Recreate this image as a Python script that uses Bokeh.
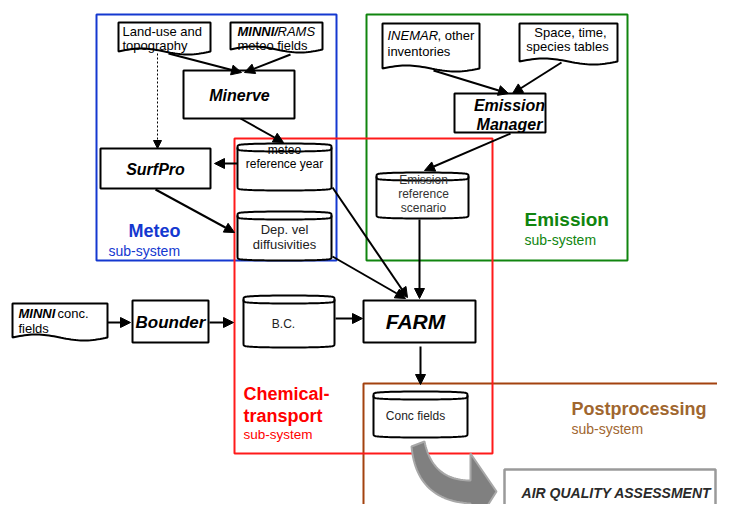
import numpy as np
from bokeh.plotting import figure
from bokeh.models import Range1d, Arrow, NormalHead
from bokeh.core.properties import value
from bokeh.embed import file_html
from bokeh.resources import INLINE

FONT = value("Liberation Sans")

# ---------------- diagram content ----------------
# sub-system frames
frame_names = ["Meteo", "Emission", "Postprocessing", "Chemical-transport"]
frame_colors = ["#1438d0", "#10850f", "#a3420f", "#ff1a1a"]
frame_left = [96, 366, 363, 234]
frame_top = [14, 14, 383, 138]
frame_right = [336, 627, 760, 492]
frame_bottom = [260, 260, 560, 453]

# process boxes (rectangles)
proc_names = ["Minerve", "SurfPro", "EmissionManager", "Bounder", "FARM"]
proc_left = [183, 100, 454, 132, 363]
proc_top = [70, 148, 93, 300, 300]
proc_right = [294, 210, 545, 208, 475]
proc_bottom = [118, 188, 132, 342, 342]

# input documents (wavy bottom)
doc_names = ["Land-use", "MINNI/RAMS", "INEMAR", "Space", "MINNI conc"]
doc_left = [118, 230, 382, 519, 12]
doc_top = [22, 22, 23, 23, 303]
doc_right = [210, 322, 479, 617, 107]
doc_bottom = [51, 49, 68, 61, 337]

# data stores (cylinders)
store_names = ["meteo ref", "dep vel", "emis ref", "BC", "conc"]
store_left = [237, 237, 376, 243, 373]
store_top = [143, 211, 172, 295, 391]
store_right = [331, 331, 468, 334, 467]
store_bottom = [190, 260, 218, 347, 437]

# arrows: (x_start, y_start, x_end, y_end)
arrows = [
    (168, 53, 241, 72),    # Land-use -> Minerve
    (290, 54, 244, 72),    # MINNI/RAMS -> Minerve
    (240, 118, 283, 142),  # Minerve -> meteo ref year
    (237, 163, 214, 163),  # meteo ref year -> SurfPro
    (155, 189, 234, 232),  # SurfPro -> Dep vel
    (433, 70, 508, 93),    # INEMAR -> Emission Manager
    (561, 62, 512, 93),    # Space -> Emission Manager
    (510, 133, 424, 170),  # Emission Manager -> Emission ref
    (419, 219, 419, 298),  # Emission ref -> FARM
    (332, 187, 407, 297),  # meteo ref -> FARM
    (332, 256, 405, 298),  # dep vel -> FARM
    (107, 322, 130, 322),  # MINNI conc -> Bounder
    (209, 322, 233, 322),  # Bounder -> B.C.
    (335, 318, 362, 318),  # B.C. -> FARM
    (420, 346, 420, 384),  # FARM -> Conc fields
]
dotted_arrow = (157, 53, 157, 148)  # Land-use -> SurfPro

# ---------------- figure ----------------
p = figure(width=717, height=504, x_range=Range1d(0, 717), y_range=Range1d(504, 0),
           output_backend="svg", toolbar_location=None, min_border=0,
           x_axis_location=None, y_axis_location=None)
p.xgrid.visible = False
p.ygrid.visible = False
p.outline_line_color = None
p.background_fill_color = "white"
p.border_fill_color = "white"

# frames
for l, t, r, b, c in zip(frame_left, frame_top, frame_right, frame_bottom, frame_colors):
    p.quad(left=[l], right=[r], top=[t], bottom=[b], fill_color=None,
           line_color=c, line_width=2)


# grey big curved arrow (Conc fields -> Air quality assessment)
def bez(p0, p1, p2, n=30):
    t = np.linspace(0, 1, n)[:, None]
    pts = (1 - t) ** 2 * np.array(p0) + 2 * (1 - t) * t * np.array(p1) + t ** 2 * np.array(p2)
    return pts[:, 0], pts[:, 1]

ox, oy = bez((411, 446), (416, 500), (470, 503))
ix, iy = bez((424, 441), (432, 480), (470, 480))
gx = list(ox) + [470, 496, 470] + list(ix[::-1])
gy = list(oy) + [532, 491, 453] + list(iy[::-1])
p.patch(gx, gy, fill_color="#808080", line_color="#a8a8a8", line_width=2)

# air quality assessment box
p.quad(left=[504], right=[715], top=[469], bottom=[513], fill_color="white",
       line_color="#9a9a9a", line_width=2.5)

# process boxes
p.quad(left=proc_left, right=proc_right, top=proc_top, bottom=proc_bottom,
       fill_color="white", line_color="black", line_width=2)

# documents
dxs, dys = [], []
for l, t, r, b in zip(doc_left, doc_top, doc_right, doc_bottom):
    s = np.linspace(0, 1, 40)
    wx = r - (r - l) * s
    wy = b + 3 * np.sin(2 * np.pi * s)
    dxs.append([l, r] + list(wx))
    dys.append([t, t] + list(wy))
p.patches(dxs, dys, fill_color="white", line_color="black", line_width=2)

# cylinders
cxs, cys, fxs, fys = [], [], [], []
for l, t, r, b in zip(store_left, store_top, store_right, store_bottom):
    h = 4
    a = np.linspace(0, np.pi, 40)
    xm, rx = (l + r) / 2, (r - l) / 2
    sa = np.abs(np.sin(a)) ** 0.35
    tx = xm - rx * np.cos(a)
    ty = t + h - h * sa
    bx = xm + rx * np.cos(a)
    by = b - h + h * sa
    cxs.append(list(tx) + list(bx))
    cys.append(list(ty) + list(by))
    fxs.append(list(tx))
    fys.append(list(t + h + h * sa))
p.patches(cxs, cys, fill_color="white", line_color="black", line_width=2)
p.multi_line(fxs, fys, line_color="black", line_width=2)

# arrows
for xs_, ys_, xe, ye in arrows:
    p.add_layout(Arrow(end=NormalHead(size=10, fill_color="black", line_color="black", line_width=1),
                       x_start=xs_, y_start=ys_, x_end=xe, y_end=ye,
                       line_width=2, line_color="black"))
xs_, ys_, xe, ye = dotted_arrow
p.add_layout(Arrow(end=NormalHead(size=8, fill_color="black", line_color="black", line_width=1),
                   x_start=xs_, y_start=ys_, x_end=xe, y_end=ye,
                   line_width=1, line_color="black", line_dash="2 2"))


def txt(x, y, s, size, style="normal", color="black", align="left"):
    p.text(x=[x], y=[y], text=[s], text_font=FONT, text_font_size=f"{size}px",
           text_font_style=style, text_color=color, text_align=align,
           text_baseline="middle")


# process labels
txt(239, 95, "Minerve", 16, "bold italic", align="center")
txt(155, 169, "SurfPro", 16, "bold italic", align="center")
txt(509, 105, "Emission", 16, "bold italic", align="center")
txt(509, 124, "Manager", 16, "bold italic", align="center")
txt(170, 322, "Bounder", 17, "bold italic", align="center")
txt(415, 321, "FARM", 21, "bold italic", align="center")
txt(616, 492, "AIR QUALITY ASSESSMENT", 14, "bold italic", color="#2a2a2a", align="center")

# document labels
txt(122, 31, "Land-use and", 13)
txt(122, 45, "topography", 13)
txt(237, 31, "MINNI/", 13, "bold italic")
txt(277, 31, "RAMS", 13, "italic")
txt(237, 45, "meteo  fields", 13)
txt(387, 35, "INEMAR", 13, "italic")
txt(437, 35, ", other", 13)
txt(387, 51, "inventories", 13)
txt(570, 32, "Space, time,", 13, align="center")
txt(567, 46, "species tables", 13, align="center")
txt(18, 313, "MINNI", 13, "bold italic")
txt(57, 313, "conc.", 13)
txt(18, 328, "fields", 13)

# store labels
txt(284, 149, "meteo", 12, align="center")
txt(284, 163, "reference year", 12, align="center")
txt(284, 229, "Dep. vel", 13, color="#222222", align="center")
txt(284, 244, "diffusivities", 13, color="#222222", align="center")
txt(423, 179, "Emission", 12, color="#333333", align="center")
txt(423, 193, "reference", 12, color="#333333", align="center")
txt(423, 207, "scenario", 12, color="#333333", align="center")
txt(283, 323, "B.C.", 12, color="#222222", align="center")
txt(415, 415, "Conc fields", 12, color="#222222", align="center")

# sub-system labels
txt(128, 230, "Meteo", 18, "bold", color="#1438d0")
txt(108, 250, "sub-system", 14, color="#1438d0")
txt(524, 219, "Emission", 19, "bold", color="#10850f")
txt(524, 239, "sub-system", 14, color="#10850f")
txt(243, 393, "Chemical-", 18, "bold", color="#ff0000")
txt(243, 415, "transport", 18, "bold", color="#ff0000")
txt(243, 434, "sub-system", 13.5, color="#ff0000")
txt(571, 408, "Postprocessing", 18, "bold", color="#a0662f")
txt(571, 428, "sub-system", 14, color="#a0662f")

open("out.html", "w").write(file_html(p, INLINE))
